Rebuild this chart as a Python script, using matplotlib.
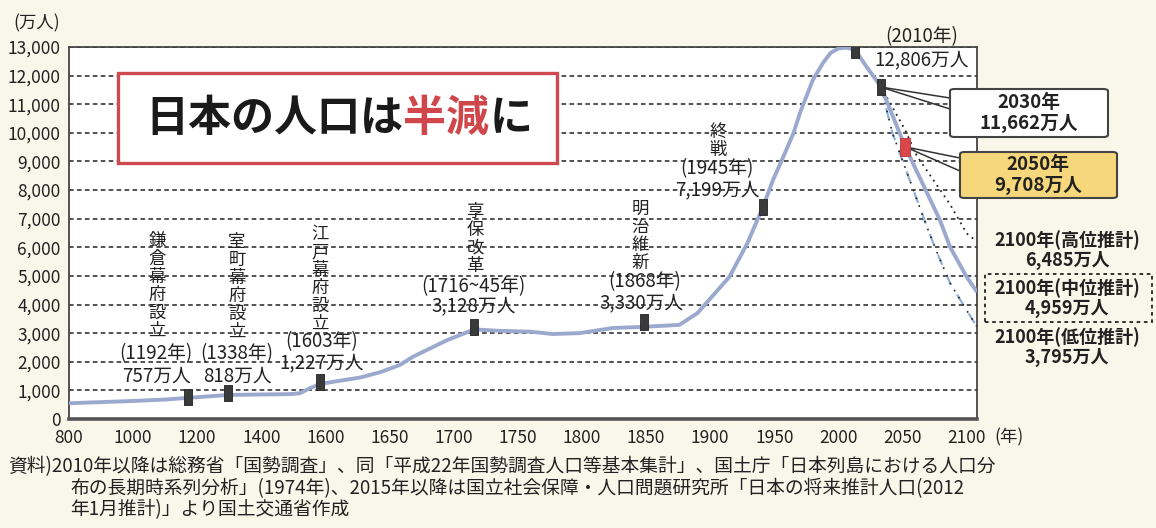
import numpy as np
import matplotlib
matplotlib.use("Agg")
import matplotlib.pyplot as plt
from matplotlib.patches import Rectangle, FancyBboxPatch, ConnectionPatch

plt.rcParams["font.family"] = ["Noto Sans CJK JP", "DejaVu Sans"]

# ---- data ----
tick_years = [800, 1000, 1200, 1400, 1600, 1650, 1700, 1750, 1800,
              1850, 1900, 1950, 2000, 2050, 2100]
y_ticks = list(range(0, 13001, 1000))

pop_years = [800, 1000, 1100, 1171, 1296, 1490, 1520, 1552, 1583, 1606,
             1627, 1643, 1658, 1668, 1695, 1716, 1736, 1760, 1777, 1798,
             1824, 1848, 1876, 1890, 1915, 1929, 1941, 1949, 1956, 1965,
             1970, 1980, 1988, 1994, 2000, 2006, 2013, 2022, 2033, 2052,
             2079, 2087, 2100, 2108]
pop_values = [550, 630, 680, 740, 840, 870, 900, 1080, 1220, 1300,
              1450, 1640, 1890, 2170, 2760, 3130, 3080, 3050, 2970, 3000,
              3180, 3220, 3290, 3700, 4970, 6150, 7400, 8360, 9060, 10000,
              10700, 11850, 12450, 12800, 12950, 12980, 12900, 12300, 11620, 9510,
              6960, 6010, 4960, 4440]

high_years = [2033, 2052, 2061, 2087, 2100, 2108]
high_values = [11620, 10100, 9200, 7500, 6485, 6200]
low_years = [2033, 2042, 2069, 2077, 2087, 2100, 2108]
low_values = [11620, 10000, 6710, 5800, 4750, 3795, 3220]

marker_years = [1171, 1296, 1583, 1716, 1848, 1941, 2013, 2033]
marker_values = [770, 910, 1290, 3200, 3390, 7410, 12900, 11600]
red_year = 2052
red_value = 9510

events = ["鎌倉幕府設立", "室町幕府設立", "江戸幕府設立", "享保改革", "明治維新", "終戦"]
event_years = ["(1192年)", "(1338年)", "(1603年)", "(1716~45年)", "(1868年)", "(1945年)"]
event_pops = ["757万人", "818万人", "1,227万人", "3,128万人", "3,330万人", "7,199万人"]

proj_labels = ["2100年(高位推計)", "2100年(中位推計)", "2100年(低位推計)"]
proj_pops = ["6,485万人", "4,959万人", "3,795万人"]

W, H = 1156, 528


def fpx(x, y):
    # pixel (from top-left) -> figure fraction
    return x / W, 1 - y / H


knots_year = [600] + tick_years + [2150]
knots_pos = list(range(-1, len(tick_years) + 1))


def fwd(x):
    return np.interp(x, knots_year, knots_pos)


def inv(p):
    return np.interp(p, knots_pos, knots_year)


fig = plt.figure(figsize=(W / 100, H / 100), dpi=100)
fig.patch.set_facecolor("#f9f7ea")
ax = fig.add_axes([69 / W, 1 - 419 / H, (977 - 69) / W, (419 - 47) / H])
ax.set_facecolor("white")
ax.set_xscale("function", functions=(fwd, inv))
ax.set_xlim(800, 2108)
ax.set_ylim(0, 13000)

ax.set_xticks(tick_years)
ax.set_xticklabels([str(t) for t in tick_years], fontsize=12.5, color="#222")
ax.set_yticks(y_ticks)
ax.set_yticklabels([f"{v:,}" for v in y_ticks], fontsize=12.5, color="#222")
ax.tick_params(axis="both", length=0)
ax.tick_params(axis="x", pad=7)
ax.tick_params(axis="y", pad=6)

ax.set_axisbelow(True)
ax.yaxis.grid(True, color="#222", lw=1.1, linestyle=(0, (3, 2.2)))
for s in ["left", "right", "top"]:
    ax.spines[s].set_color("#444")
    ax.spines[s].set_linewidth(1.3)
ax.spines["bottom"].set_color("#555")
ax.spines["bottom"].set_linewidth(2.6)

# projections
ax.plot(high_years, high_values, color="#222", lw=1.3, linestyle=(0, (1, 2.5)), zorder=2)
ax.plot(low_years, low_values, color="#8fb0d8", lw=1.6, linestyle=(0, (5, 5)), zorder=2)
ax.plot(low_years, low_values, color="#222", lw=1.2, linestyle=(5, (1, 4)), zorder=2)

# main curve
ax.plot(pop_years, pop_values, color="#9aa9cd", lw=2.8, zorder=3,
        solid_joinstyle="round", solid_capstyle="butt")

bar = [(-0.23, -0.5), (0.23, -0.5), (0.23, 0.5), (-0.23, 0.5), (-0.23, -0.5)]
ax.plot(marker_years, marker_values, linestyle="none", marker=bar, markersize=11,
        color="#3a3a3a", markeredgecolor="#222", markeredgewidth=0.6, zorder=5)
red_bar = [(-0.3, -0.5), (0.3, -0.5), (0.3, 0.5), (-0.3, 0.5), (-0.3, -0.5)]
ax.plot([red_year], [red_value], linestyle="none", marker=red_bar, markersize=12.5,
        color="#d9474a", markeredgecolor="#b83236", markeredgewidth=0.6, zorder=5)

# leader lines to the boxes
for (yr, val), ends in [((2033, 11600), [(950, 98), (950, 109)]),
                        ((red_year, red_value), [(960, 158), (960, 171)])]:
    for e in ends:
        cp = ConnectionPatch(xyA=(yr, val), coordsA="data", axesA=ax,
                             xyB=fpx(*e), coordsB="figure fraction",
                             color="#333", lw=1.1, zorder=4)
        cp.set_clip_on(False)
        ax.add_artist(cp)

# event annotations
vert_pos = [(157, 232), (237, 233), (320, 225), (475, 203), (640, 200), (718, 123)]
year_pos = [(156, 354), (237, 354), (322, 342), (473, 287), (645, 282), (717, 169)]
pop_pos = [(156, 376), (237, 376), (322, 363), (474, 306), (642, 303), (717, 190)]
for ev, (x, y) in zip(events, vert_pos):
    fig.text(*fpx(x, y), "\n".join(ev), ha="center", va="top", fontsize=12.5,
             linespacing=1.0, color="#222")
for t, (x, y) in zip(event_years, year_pos):
    fig.text(*fpx(x, y), t, ha="center", va="center", fontsize=13.5, color="#222")
for t, (x, y) in zip(event_pops, pop_pos):
    fig.text(*fpx(x, y), t, ha="center", va="center", fontsize=13.5, color="#222")

fig.text(*fpx(922, 37), "(2010年)", ha="center", va="center", fontsize=13.5, color="#222")
fig.text(*fpx(922, 60), "12,806万人", ha="center", va="center", fontsize=13.5, color="#222")

# boxes on the right
b1 = FancyBboxPatch(fpx(950, 137), (1108 - 950) / W, (137 - 89) / H,
                    boxstyle="round,pad=0,rounding_size=0.004", transform=fig.transFigure,
                    facecolor="white", edgecolor="#444", lw=1.5, zorder=6)
fig.add_artist(b1)
fig.text(*fpx(1029, 103), "2030年", ha="center", va="center", fontsize=13.5,
         fontweight="bold", color="#222", zorder=7)
fig.text(*fpx(1029, 123), "11,662万人", ha="center", va="center", fontsize=13.5,
         fontweight="bold", color="#222", zorder=7)

b2 = FancyBboxPatch(fpx(960, 198), (1117 - 960) / W, (198 - 152) / H,
                    boxstyle="round,pad=0,rounding_size=0.004", transform=fig.transFigure,
                    facecolor="#f6d77b", edgecolor="#444", lw=1.5, zorder=6)
fig.add_artist(b2)
fig.text(*fpx(1038, 165), "2050年", ha="center", va="center", fontsize=13.5,
         fontweight="bold", color="#222", zorder=7)
fig.text(*fpx(1038, 185), "9,708万人", ha="center", va="center", fontsize=13.5,
         fontweight="bold", color="#222", zorder=7)

b3 = Rectangle(fpx(985, 322), (1152 - 985) / W, (322 - 274) / H, transform=fig.transFigure,
               facecolor="none", edgecolor="#222", lw=1.3, linestyle=(0, (2, 2)), zorder=6)
fig.add_artist(b3)
for (lab, pop), yc in zip(zip(proj_labels, proj_pops), [240, 288, 337]):
    fig.text(*fpx(1067, yc), lab, ha="center", va="center", fontsize=13,
             fontweight="bold", color="#222", zorder=7)
    fig.text(*fpx(1067, yc + 20), pop, ha="center", va="center", fontsize=13,
             fontweight="bold", color="#222", zorder=7)

# title box
tb = Rectangle(fpx(118, 163), (557 - 118) / W, (163 - 73) / H, transform=fig.transFigure,
               facecolor="white", edgecolor="#cf4a4e", lw=2.4, zorder=6)
fig.add_artist(tb)
title_fs = 31
em = title_fs * 100 / 72
x0 = 145
for part, col, n in [("日本の人口は", "#1a1a1a", 6), ("半減", "#d0474b", 2), ("に", "#1a1a1a", 1)]:
    fig.text(*fpx(x0, 118), part, ha="left", va="center", fontsize=title_fs,
             fontweight="bold", color=col, zorder=7)
    x0 += n * em

# axis unit labels
fig.text(*fpx(37, 23), "(万人)", ha="center", va="center", fontsize=12.5, color="#222")
fig.text(*fpx(1009, 437), "(年)", ha="center", va="center", fontsize=12.5, color="#222")

# source note
notes = ["資料)2010年以降は総務省「国勢調査」、同「平成22年国勢調査人口等基本集計」、国土庁「日本列島における人口分",
         "布の長期時系列分析」(1974年)、2015年以降は国立社会保障・人口問題研究所「日本の将来推計人口(2012",
         "年1月推計)」より国土交通省作成"]
for t, (x, y) in zip(notes, [(8, 467), (70, 489), (70, 510)]):
    fig.text(*fpx(x, y), t, ha="left", va="center", fontsize=13.5, color="#222")

fig.savefig("out.png", dpi=100, facecolor=fig.get_facecolor())
